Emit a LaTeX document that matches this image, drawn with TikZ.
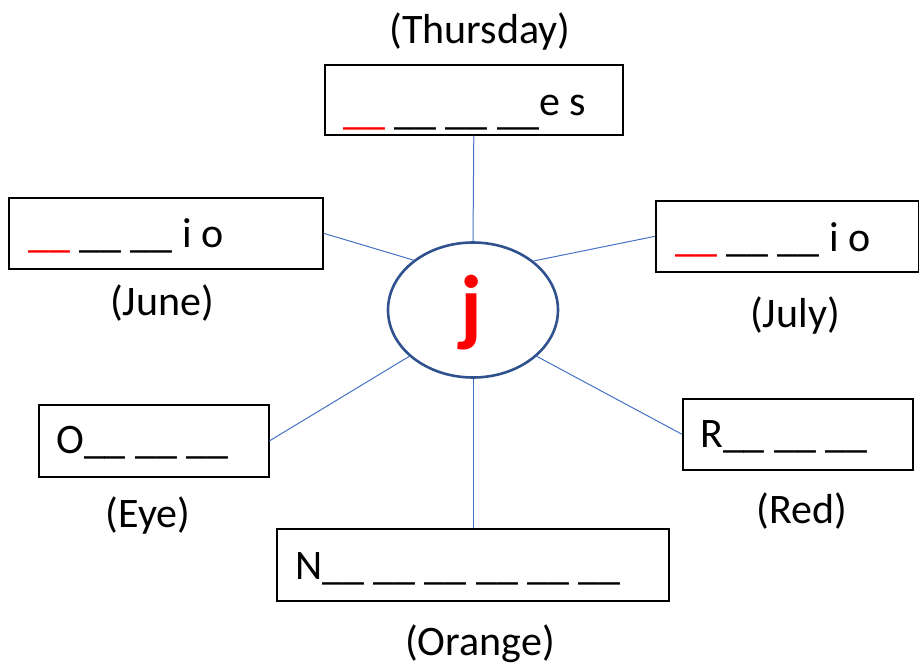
\documentclass[tikz,border=0pt]{standalone}
\usepackage{fontspec}
\setmainfont{Carlito}
\usetikzlibrary{shapes.geometric}
\definecolor{linkblue}{HTML}{4472C4}
\definecolor{ringblue}{HTML}{2F528F}
\definecolor{blankred}{HTML}{FF0000}
\begin{document}
\begin{tikzpicture}[x=1pt,y=-1pt,
  wordbox/.style={draw=black,line width=1.6pt,rectangle,inner sep=0pt,anchor=north west},
  txt/.style={inner sep=0pt,font=\fontsize{42}{50}\selectfont},
  label/.style={txt,anchor=base},
  link/.style={draw=linkblue,line width=1pt}]
\useasboundingbox (0,0) rectangle (919,664);
% boxes
\node[wordbox,minimum width=298pt,minimum height=70pt] (bthu) at (324,64) {};
\node[wordbox,minimum width=314pt,minimum height=71pt] (bjun) at (8,197) {};
\node[wordbox,minimum width=263pt,minimum height=71pt] (bjul) at (655,200) {};
\node[wordbox,minimum width=230pt,minimum height=72pt] (beye) at (38,404) {};
\node[wordbox,minimum width=230pt,minimum height=71pt] (bred) at (682,398) {};
\node[wordbox,minimum width=392pt,minimum height=72pt] (bora) at (276,528) {};
% centre ellipse
\node[ellipse,draw=ringblue,line width=2.6pt,minimum width=170pt,minimum height=135pt,inner sep=0pt] (ell) at (473,310) {};
\node[txt,anchor=base,text=blankred,font=\fontsize{86}{100}\selectfont\bfseries] (jj) at (471,335) {j};
% box texts
\node[txt,anchor=base west] (tthu) at (343,124) {\textcolor{blankred}{\_\_} \_\_ \_\_ \_\_\raisebox{9pt}{e s}};
\node[txt,anchor=base west] (tjun) at (28,247) {\textcolor{blankred}{\_\_} \_\_ \_\_ i o};
\node[txt,anchor=base west] (tjul) at (675,251) {\textcolor{blankred}{\_\_} \_\_ \_\_ i o};
\node[txt,anchor=base west] (teye) at (56,453) {O\_\_ \_\_ \_\_};
\node[txt,anchor=base west] (tred) at (700,447) {R\_\_ \_\_ \_\_};
\node[txt,anchor=base west] (tora) at (295,579) {N\_\_ \_\_ \_\_ \_\_ \_\_ \_\_};
% labels
\node[label] (lthu) at (480,43) {(Thursday)};
\node[label] (ljun) at (162,315) {(June)};
\node[label] (ljul) at (795,327) {(July)};
\node[label] (leye) at (148,527) {(Eye)};
\node[label] (lred) at (802,523) {(Red)};
\node[label] (lora) at (480,655) {(Orange)};
% connectors
\draw[link] (bthu.south) -- (ell.north);
\draw[link] (bjun.east) -- (ell.140);
\draw[link] (bjul.west) -- (ell.39);
\draw[link] (beye.east) -- (ell.216);
\draw[link] (bred.west) -- (ell.324);
\draw[link] (ell.south) -- (bora.north -| ell.south);
\end{tikzpicture}
\end{document}
